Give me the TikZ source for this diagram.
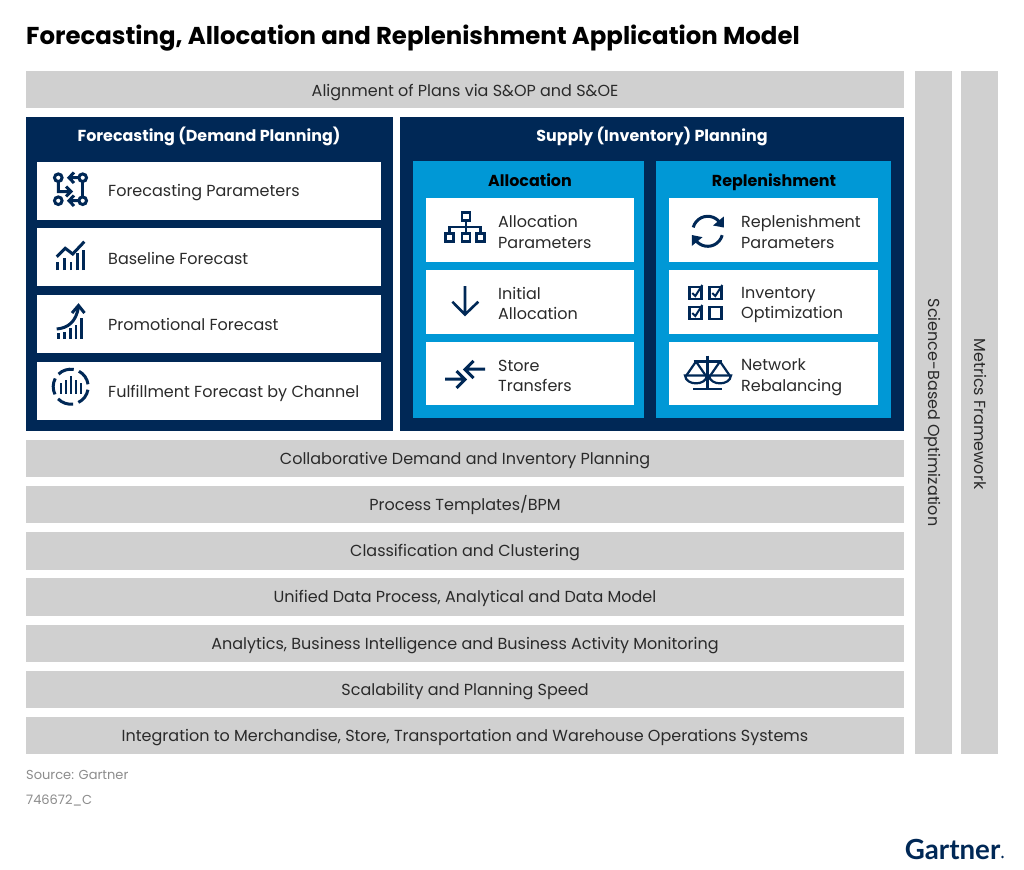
\documentclass[tikz,border=0pt]{standalone}
\usepackage{fontspec}
\setmainfont{Poppins}
\newfontfamily\logofont{Lato}
\definecolor{navy}{HTML}{002856}
\definecolor{sky}{HTML}{0098D6}
\definecolor{barg}{HTML}{D0D0D0}
\definecolor{ink}{HTML}{2A2A2A}
\newcommand{\lstrut}{\rule[-3pt]{0pt}{14pt}}
\newcommand{\pblock}[6]{\pgfmathsetmacro\pw{#4-#2}\pgfmathsetmacro\ph{#5-#3}%
\node[#1,minimum width=\pw pt,minimum height=\ph pt,anchor=north west] (#6) at (#2,#3) {};}
\newcommand{\rowtxt}[3]{\node[rowlabel,anchor=west] (#1) at (#2) {#3};}
\tikzset{x=1pt,y=-1pt,
 barbox/.style={fill=barg,draw=none,inner sep=0pt,outer sep=0pt},
 navybox/.style={fill=navy,draw=none,inner sep=0pt,outer sep=0pt},
 skybox/.style={fill=sky,draw=none,inner sep=0pt,outer sep=0pt},
 whitebox/.style={fill=white,draw=none,inner sep=0pt,outer sep=0pt},
 rowlabel/.style={inner sep=0pt,text=ink,align=left,font=\fontsize{16}{20.5}\selectfont},
 barlabel/.style={inner sep=0pt,text=ink,text height=14pt,text depth=3pt,font=\fontsize{16}{20.5}\selectfont},
 headw/.style={inner sep=0pt,text=white,text height=14pt,text depth=3pt,font=\bfseries\fontsize{15.9}{20}\selectfont},
 headk/.style={inner sep=0pt,text=black,text height=14pt,text depth=3pt,font=\bfseries\fontsize{15.9}{20}\selectfont},
 note/.style={inner sep=0pt,anchor=west,text=gray!90,text height=12pt,text depth=3pt,font=\fontsize{13}{16}\selectfont},
 icon/.style={draw=navy,line width=2.6pt,fill=none,line cap=butt,line join=miter},
 iconb/.style={draw=navy,line width=3pt,fill=none}
}
\begin{document}
\begin{tikzpicture}
\path[use as bounding box,fill=white] (0,0) rectangle (1024,869);
\node[inner sep=0pt,anchor=west,text=black,text height=20pt,text depth=5pt,font=\bfseries\fontsize{24.4}{30}\selectfont] (title) at (26,37) {Forecasting, Allocation and Replenishment Application Model};
% bars
\pblock{barbox}{26}{71}{904}{108}{b0}
\pblock{barbox}{26}{440}{904}{477}{b1}
\pblock{barbox}{26}{486}{904}{523}{b2}
\pblock{barbox}{26}{532}{904}{570}{b3}
\pblock{barbox}{26}{578}{904}{616}{b4}
\pblock{barbox}{26}{625}{904}{662}{b5}
\pblock{barbox}{26}{671}{904}{708}{b6}
\pblock{barbox}{26}{717}{904}{754}{b7}
\pblock{barbox}{915}{71}{952}{754}{c1}
\pblock{barbox}{961}{71}{998}{754}{c2}
\node[barlabel] (t0) at (465,91) {Alignment of Plans via S\&OP and S\&OE};
\node[barlabel] (t1) at (b1) {Collaborative Demand and Inventory Planning};
\node[barlabel] (t2) at (b2) {Process Templates/BPM};
\node[barlabel] (t3) at (b3) {Classification and Clustering};
\node[barlabel] (t4) at (b4) {Unified Data Process, Analytical and Data Model};
\node[barlabel] (t5) at (b5) {Analytics, Business Intelligence and Business Activity Monitoring};
\node[barlabel] (t6) at (b6) {Scalability and Planning Speed};
\node[barlabel] (t7) at (b7) {Integration to Merchandise, Store, Transportation and Warehouse Operations Systems};
\node[barlabel,rotate=-90] (tc1) at (c1) {Science-Based Optimization};
\node[barlabel,rotate=-90] (tc2) at (979.5,414) {Metrics Framework};
% panels
\pblock{navybox}{26}{117}{393}{431}{nl}
\pblock{navybox}{400}{117}{904}{431}{nr}
\node[headw] (hl) at (209,136) {Forecasting (Demand Planning)};
\node[headw] (hr) at (652,136) {Supply (Inventory) Planning};
\pblock{skybox}{413}{161}{644}{418}{sa}
\pblock{skybox}{656}{161}{891}{418}{sr}
\node[headk] (ha) at (530,180.5) {Allocation};
\node[headk] (hb) at (774,180.5) {Replenishment};
% left rows
\pblock{whitebox}{37}{162}{381}{220}{r1}
\pblock{whitebox}{37}{228}{381}{286}{r2}
\pblock{whitebox}{37}{295}{381}{353}{r3}
\pblock{whitebox}{37}{362}{381}{420}{r4}
\rowtxt{l1}{108,193}{\lstrut Forecasting Parameters}
\rowtxt{l2}{108,259.5}{\lstrut Baseline Forecast}
\rowtxt{l3}{108,326}{\lstrut Promotional Forecast}
\rowtxt{l4}{108,393.5}{\lstrut Fulfillment Forecast by Channel}
% allocation rows
\pblock{whitebox}{426}{198}{634}{262}{a1}
\pblock{whitebox}{426}{270}{634}{334}{a2}
\pblock{whitebox}{426}{342}{634}{405}{a3}
\rowtxt{la1}{498,233.25}{\lstrut Allocation\\\lstrut Parameters}
\rowtxt{la2}{498,304.75}{\lstrut Initial\\\lstrut Allocation}
\rowtxt{la3}{498,377.25}{\lstrut Store\\\lstrut Transfers}
% replenishment rows
\pblock{whitebox}{669}{198}{878}{262}{p1}
\pblock{whitebox}{669}{270}{878}{334}{p2}
\pblock{whitebox}{669}{342}{878}{405}{p3}
\rowtxt{lp1}{741,233.25}{\lstrut Replenishment\\\lstrut Parameters}
\rowtxt{lp2}{741,305.25}{\lstrut Inventory\\\lstrut Optimization}
\rowtxt{lp3}{741,377.25}{\lstrut Network\\\lstrut Rebalancing}
% icon: forecasting parameters
\draw[iconb] (58.3,177.7) circle (3.8) (82.7,177.7) circle (3.8) (58.3,200.7) circle (3.8) (82.7,200.7) circle (3.8);
\draw[iconb] (79,177.7)--(69,177.7) (74,172.5)--(69,177.7)--(74,183);
\draw[iconb] (79,200.7)--(69,200.7) (74,195.5)--(69,200.7)--(74,206);
\draw[iconb] (58.3,181.5)--(58.3,191.5)--(71,191.5) (66,186.5)--(71,191.5)--(66,196.5);
\draw[iconb] (82.7,181.5)--(82.7,197);
% icon: baseline
\foreach \x/\t in {57.7/261.7,64.3/258,71/261.7,77.7/253,83.7/250}{\draw[navy,line width=2.8pt] (\x,270)--(\x,\t);}
\draw[iconb] (56.7,256.7)--(65.3,248.3)--(72.7,254)--(84.3,241.7);
% icon: promotional
\foreach \x/\t in {58.3/332.7,64.3/331.7,70.3/328.3,76/325,81.7/318.3}{\draw[navy,line width=2.8pt] (\x,338.5)--(\x,\t);}
\draw[iconb] (56.7,329) .. controls (68,328) and (76,322) .. (78.5,307);
\draw[iconb] (72,313)--(78.5,305.5)--(84.5,313);
% icon: fulfillment
\foreach \a in {10,82,154,226,298}{\draw[iconb] (70.7,386.7)++(\a:17.5) arc[start angle=\a,delta angle=54,radius=17.5];}
\foreach \x/\t in {61/383,66/380,71/376,76/380,81/383}{\draw[navy,line width=2.4pt] (\x,393.5)--(\x,\t);}
% icon: org chart
\draw[icon] (462,212.5) rectangle (470,220.5);
\draw[icon] (445.3,233.5) rectangle (453.3,241.5) (462,233.5) rectangle (470,241.5) (476.7,233.5) rectangle (484.7,241.5);
\draw[icon] (466,220.5)--(466,233.5) (449.3,233.5)--(449.3,227)--(480.7,227)--(480.7,233.5);
% icon: down arrow
\draw[icon] (465,286)--(465,313) (452.3,301.7)--(465,314.5)--(478.3,301.7);
% icon: transfers
\draw[iconb] (485,369)--(466,369) (473.5,361)--(465,369.5)--(473.5,378);
\draw[iconb] (445,379)--(464,379) (456.5,371)--(465,379.5)--(456.5,388);
% icon: cycle
\draw[iconb] (707.7,231.3)++(-25:15) arc[start angle=-25,end angle=-165,radius=15];
\draw[iconb] (707.7,231.3)++(155:15) arc[start angle=155,end angle=15,radius=15];
\fill[navy] (723.8,216.5)--(723.8,227.5)--(713,225.5)--cycle;
\fill[navy] (691.8,246)--(691.8,235)--(702.5,237.2)--cycle;
% icon: checkboxes
\foreach \x/\y in {695.3/293,715.3/293,695.3/313,715.3/313}{\draw[icon] (\x-6,\y-6) rectangle (\x+6,\y+6);}
\foreach \x/\y in {695.3/293,715.3/293,695.3/313}{\draw[navy,line width=2pt] (\x-3,\y)--(\x,\y+3)--(\x+7,\y-8);}
% icon: scale
\draw[icon] (707.7,355.5)--(707.7,389) (693,389)--(722,389) (693.5,361.5)--(722,361.5);
\draw[navy,line width=2.2pt,line join=round] (696,361.5)--(686,376) (696,361.5)--(706,376);
\draw[navy,line width=2.2pt,line join=round] (720,361.5)--(710,376) (720,361.5)--(730,376);
\draw[navy,line width=2.2pt] (685,375.5)--(707,375.5) .. controls (706,386) and (686,386) .. (685,375.5) -- cycle;
\draw[navy,line width=2.2pt] (709,375.5)--(731,375.5) .. controls (730,386) and (710,386) .. (709,375.5) -- cycle;
% notes
\node[note] (src) at (26,775) {Source: Gartner};
\node[note] (id) at (26,800) {746672\_C};
\node[inner sep=0pt,anchor=east,text=navy,font=\logofont\bfseries\fontsize{27.7}{34}\selectfont] (logo) at (1000.5,849) {Gartner};
\fill[navy] (1002.5,857) circle (1.3);
\end{tikzpicture}
\end{document}
